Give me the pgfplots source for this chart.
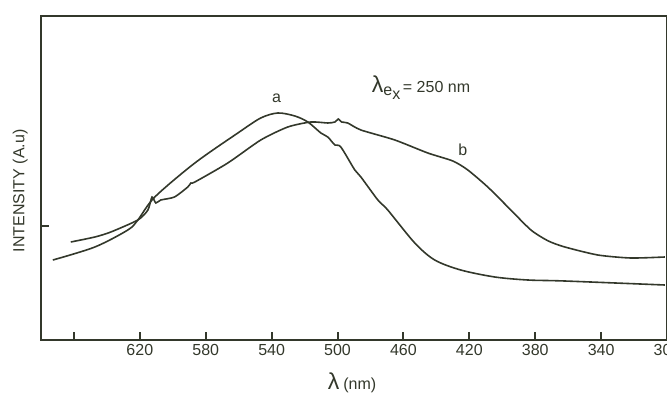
\documentclass[border=0pt]{standalone}
\usepackage{fontspec}
\setmainfont{Liberation Sans}
\usepackage{pgfplots}
\pgfplotsset{compat=1.18}
\usetikzlibrary{calc}
\definecolor{ink}{rgb}{0.2,0.22,0.17}
\begin{document}
\begin{tikzpicture}
\begin{axis}[name=ax, scale only axis, width=469.5pt, height=243pt,
  xmin=300, xmax=680, ymin=0, ymax=324, x dir=reverse,
  axis line style={ink, line width=1pt},
  xtick={300,340,380,420,460,500,540,580,620,660},
  xticklabels={300,340,380,420,460,500,540,580,620,{}},
  ytick={114}, yticklabels={},
  xtick pos=bottom, ytick pos=left,
  xtick align=inside, ytick align=inside,
  major tick length=6pt,
  every tick/.style={ink, line width=1.5pt},
  tick label style={font=\large, text=ink},
  /pgf/number format/assume math mode=true,
  xlabel={\LARGE λ\,\large(nm)},
  xlabel style={at={(axis description cs:0.497,0)}, anchor=center, yshift=-32pt, text=ink},
  ylabel={INTENSITY (A.u)},
  ylabel style={at={(axis description cs:-0.033,0.46)}, anchor=center, font=\large, text=ink},
]
\addplot[ink, line width=1.2pt, smooth, tension=0.5] coordinates {
(672.8,80) (647.3,93) (627.3,110) (621.2,120) (610.9,143) (586.6,177)
(560.5,207) (546.6,222) (536.2,227) (525.9,224) (518.0,218) (510.1,207)
(505.9,203) (501.6,195) (498.0,193) (489.5,170) (485.8,163) (475.5,140)
(469.5,130) (453.1,97) (441.0,80) (425.2,70) (404.5,63) (384.5,60)
(362.0,59) (301.3,55)};
\addplot[ink, line width=1.2pt, smooth, tension=0.4] coordinates {
(661.9,98) (647.3,103) (637.6,108) (621.2,120) (615.1,130) (612.6,143)
(610.3,137) (607.3,140) (599,143) (590.9,153) (589,157) (586.6,158)
(566.6,177) (546.6,200) (530.2,213) (516.2,218) (505.9,217) (501.6,218)
(499.5,221) (497.5,218) (493.8,217) (485.8,210) (465.2,200) (445.2,187)
(430,179) (420.9,170) (408.8,153) (396.6,133) (382.6,110) (372,99)
(362.0,93) (342.0,85) (322.0,82) (301.3,83)};
\node[font=\large, text=ink] at (axis cs:537,242) {a};
\node[font=\large, text=ink] at (axis cs:424,190) {b};
\node[text=ink, anchor=west, font=\large] at (axis cs:482,252) {{\LARGE λ}\raisebox{-0.3ex}{e}\raisebox{-0.8ex}{x}\,= 250 nm};
\end{axis}
\pgfresetboundingbox
\useasboundingbox ($(ax.south west)+(-30.75pt,-42.75pt)$) rectangle ($(ax.north east)+(0,12pt)$);
\end{tikzpicture}
\end{document}
